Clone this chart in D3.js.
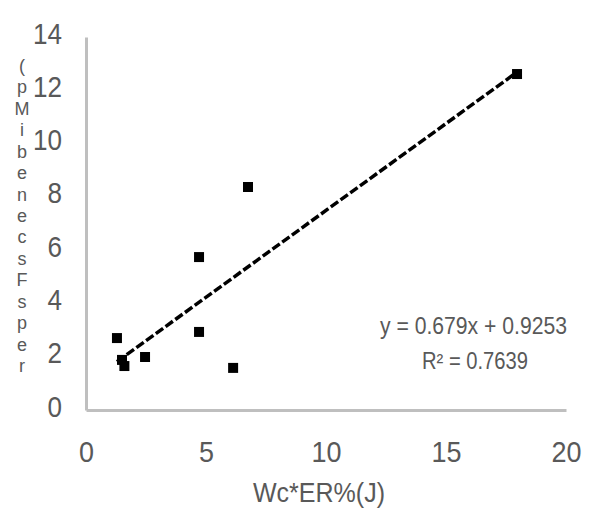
<!DOCTYPE html>
<html>
<head>
<meta charset="utf-8">
<script src="https://cdn.jsdelivr.net/npm/d3@7"></script>
<style>
  html, body { margin: 0; padding: 0; background: #fff; }
  svg { display: block; }
  text { font-family: "Liberation Sans", Arial, sans-serif; fill: #595959; }
</style>
</head>
<body>
<svg id="chart" width="601" height="509"></svg>
<script>
// ---- data ----
const xValues = [1.29, 1.5, 1.6, 2.46, 4.71, 4.71, 6.75, 6.13, 17.96];
const yValues = [2.70, 1.88, 1.65, 1.99, 2.93, 5.74, 8.37, 1.58, 12.61];
const xTicks = [0, 5, 10, 15, 20];
const yTicks = [0, 2, 4, 6, 8, 10, 12, 14];
const xTitle = "Wc*ER%(J)";
const yTitleChars = ["(", "p", "M", "i", "b", "e", "n", "e", "c", "s", "F", "s", "p", "e", "r"];
const equationText = "y = 0.679x + 0.9253";
const r2Text = "R² = 0.7639";

const svg = d3.select("#chart");
const x = d3.scaleLinear().domain([0, 20]).range([86, 566]);
const y = d3.scaleLinear().domain([0, 14]).range([410, 37]);

// axis lines (no ticks)
const xAxis = d3.axisBottom(x).tickValues(xTicks).tickSize(0).tickFormat(d3.format("d"));
const yAxis = d3.axisLeft(y).tickValues(yTicks).tickSize(0).tickFormat(d3.format("d"));

const gx = svg.append("g").attr("transform", "translate(0,410)").call(xAxis);
gx.select(".domain").attr("stroke", "#bfbfbf").attr("stroke-width", 3);
gx.selectAll(".tick text")
  .attr("y", 0).attr("dy", null)
  .attr("transform", "translate(0,52)")
  .attr("font-size", 30)
  .attr("text-anchor", "middle")
  .attr("fill", "#595959")
  .attr("textLength", d => String(d).length * 15)
  .attr("lengthAdjust", "spacingAndGlyphs");

const gy = svg.append("g").attr("transform", "translate(86,0)").call(yAxis);
gy.select(".domain").attr("stroke", "#bfbfbf").attr("stroke-width", 3);
gy.selectAll(".tick text")
  .attr("x", -24).attr("dy", null)
  .attr("y", 6)
  .attr("font-size", 30)
  .attr("text-anchor", "end")
  .attr("fill", "#595959")
  .attr("textLength", d => String(d).length * 14.5)
  .attr("lengthAdjust", "spacingAndGlyphs");
svg.selectAll(".tick line").remove();
svg.selectAll(".domain").attr("fill", "none");

// trendline (least squares on the points)
const n = xValues.length;
const mx = d3.mean(xValues), my = d3.mean(yValues);
let sxy = 0, sxx = 0;
for (let i = 0; i < n; i++) { sxy += (xValues[i]-mx)*(yValues[i]-my); sxx += (xValues[i]-mx)**2; }
const slope = sxy / sxx, intercept = my - slope * mx;
const [x0, x1] = d3.extent(xValues);
svg.append("path")
  .datum([x0, x1])
  .attr("d", d3.line().x(d => x(d)).y(d => y(intercept + slope * d)))
  .attr("stroke", "#000").attr("stroke-width", 3.5)
  .attr("stroke-dasharray", "9 3").attr("fill", "none");

// markers
const pts = xValues.map((v, i) => [v, yValues[i]]);
svg.append("g").selectAll("path").data(pts).join("path")
  .attr("d", d3.symbol(d3.symbolSquare, 100))
  .attr("transform", d => `translate(${x(d[0])},${y(d[1])})`)
  .attr("fill", "#000");

// equation labels
svg.append("text").attr("x", 380).attr("y", 334)
  .attr("font-size", 23).attr("textLength", 187).attr("lengthAdjust", "spacingAndGlyphs")
  .text(equationText);
svg.append("text").attr("x", 422).attr("y", 369)
  .attr("font-size", 23).attr("textLength", 106).attr("lengthAdjust", "spacingAndGlyphs")
  .text(r2Text);

// axis titles
svg.append("text").attr("x", 319).attr("y", 502)
  .attr("text-anchor", "middle").attr("font-size", 27)
  .attr("textLength", 132).attr("lengthAdjust", "spacingAndGlyphs")
  .text(xTitle);

const yc = d3.scalePoint().domain(d3.range(yTitleChars.length)).range([72, 372]);
const yt = svg.append("text").attr("font-size", 18).attr("text-anchor", "middle").attr("fill", "#6b6b6b");
yt.selectAll("tspan").data(yTitleChars).join("tspan")
  .attr("x", 22).attr("y", (d, i) => yc(i)).text(d => d);
</script>
</body>
</html>
